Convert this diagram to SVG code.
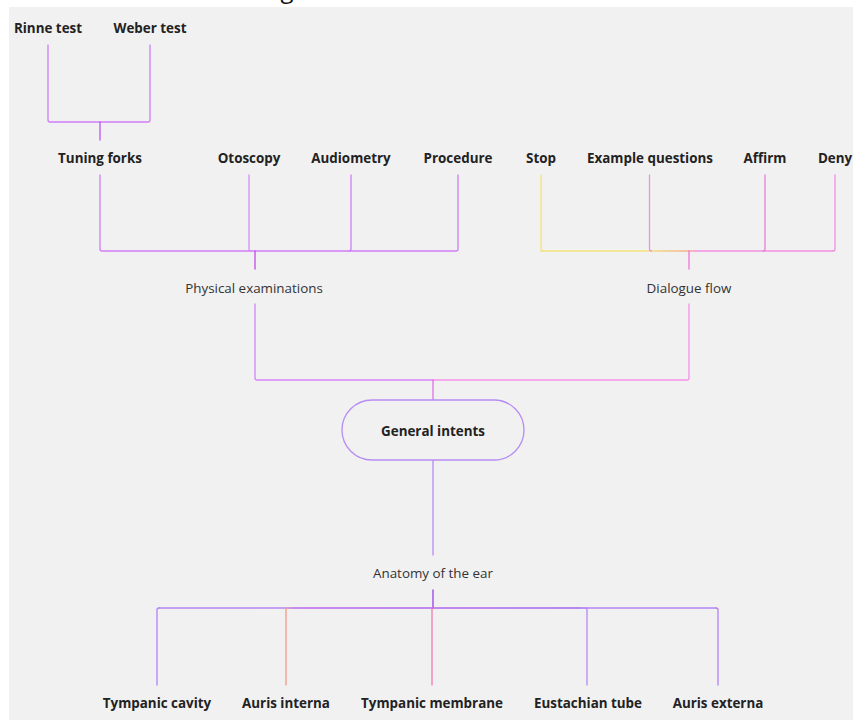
<svg xmlns="http://www.w3.org/2000/svg" width="853" height="722" viewBox="0 0 853 722">
  <style>
    .lbl { font-family: "Open Sans", "Noto Sans", "Liberation Sans", sans-serif; font-size: 13.4px; font-weight: 700; fill: #222; text-anchor: middle; dominant-baseline: central; }
    .sub { font-family: "Open Sans", "Noto Sans", "Liberation Sans", sans-serif; font-size: 13.4px; font-weight: 400; fill: #333; text-anchor: middle; dominant-baseline: central; }
    .ln { fill: none; stroke-width: 1.3; stroke-linejoin: round; stroke-linecap: round; }
  </style>
  <defs>
    <linearGradient id="dlgBar" x1="541" y1="0" x2="835" y2="0" gradientUnits="userSpaceOnUse">
      <stop offset="0.36" stop-color="#f5e37c"/>
      <stop offset="0.5" stop-color="#f5b08a"/>
      <stop offset="0.53" stop-color="#f290e0"/>
      <stop offset="1" stop-color="#f292e2"/>
    </linearGradient>
    <linearGradient id="earBar" x1="157" y1="0" x2="718" y2="0" gradientUnits="userSpaceOnUse">
      <stop offset="0" stop-color="#b385f7"/>
      <stop offset="0.23" stop-color="#b385f7"/>
      <stop offset="0.25" stop-color="#bb66ee"/>
      <stop offset="0.75" stop-color="#a466f0"/>
      <stop offset="0.77" stop-color="#b385f7"/>
      <stop offset="1" stop-color="#b385f7"/>
    </linearGradient>
  </defs>

  <!-- page -->
  <rect x="0" y="0" width="853" height="722" fill="#ffffff"/>
  <rect x="9" y="7" width="844" height="713" fill="#f1f1f1"/>
  <text x="287" y="-2.5" font-family="Open Sans, Liberation Sans, sans-serif" font-size="24" fill="#111" text-anchor="middle">g</text>

  <!-- connectors -->
  <g id="connectors">
    <!-- tuning forks -->
    <path class="ln" stroke="#d07ef7" d="M48 45 V120 Q48 122 50 122 H148 Q150 122 150 120 V45"/>
    <path class="ln" stroke="#bd55f0" d="M100 122 V140"/>
    <!-- physical examinations -->
    <path class="ln" stroke="#d07ef7" d="M100 175 V249 Q100 251 102 251 H456 Q458 251 458 249 V175"/>
    <path class="ln" stroke="#d590f7" d="M249 175 V249 Q249 251 251 251"/>
    <path class="ln" stroke="#cc80f5" d="M351 175 V249 Q351 251 349 251"/>
    <path class="ln" stroke="#c24ae8" d="M255 251 V269"/>
    <!-- dialogue flow -->
    <path class="ln" stroke="url(#dlgBar)" d="M541 251 H833"/>
    <path class="ln" stroke="#f5e37c" d="M541 175 V249 Q541 251 543 251"/>
    <path class="ln" stroke="#f090e0" d="M649.5 175 V249 Q649.5 251 651.5 251"/>
    <path class="ln" stroke="#e682d8" d="M765 175 V249 Q765 251 763 251"/>
    <path class="ln" stroke="#f092e2" d="M835 175 V249 Q835 251 833 251"/>
    <path class="ln" stroke="#ee76d8" d="M689 251 V269"/>
    <!-- general intents -->
    <path class="ln" stroke="#d385f7" d="M255 304 V378 Q255 380 257 380 H433"/>
    <path class="ln" stroke="#f592ea" d="M689 304 V378 Q689 380 687 380 H433"/>
    <path class="ln" stroke="#e070e6" d="M433 380 V400"/>
    <path class="ln" stroke="#b68cf5" d="M433 460 V555"/>
    <!-- anatomy of the ear -->
    <path class="ln" stroke="#9a3ee8" d="M433 590 V608"/>
    <path class="ln" stroke="url(#earBar)" d="M159 608 H716"/>
    <path class="ln" stroke="#b283f7" d="M157 685 V610 Q157 608 159 608"/>
    <path class="ln" stroke="#f59a88" d="M286 685 V610 Q286 608 288 608"/>
    <path class="ln" stroke="#f07cb2" d="M432 685 V608"/>
    <path class="ln" stroke="#b68af5" d="M587 685 V610 Q587 608 585 608"/>
    <path class="ln" stroke="#b380f7" d="M718 685 V610 Q718 608 716 608"/>
  </g>

  <!-- nodes -->
  <g id="rinne-test"><text class="lbl" x="48" y="28">Rinne test</text></g>
  <g id="weber-test"><text class="lbl" x="150" y="28">Weber test</text></g>
  <g id="tuning-forks"><text class="lbl" x="100" y="158">Tuning forks</text></g>
  <g id="otoscopy"><text class="lbl" x="249" y="158">Otoscopy</text></g>
  <g id="audiometry"><text class="lbl" x="351" y="158">Audiometry</text></g>
  <g id="procedure"><text class="lbl" x="458" y="158">Procedure</text></g>
  <g id="stop"><text class="lbl" x="541" y="158">Stop</text></g>
  <g id="example-questions"><text class="lbl" x="650" y="158">Example questions</text></g>
  <g id="affirm"><text class="lbl" x="765" y="158">Affirm</text></g>
  <g id="deny"><text class="lbl" x="835" y="158">Deny</text></g>
  <g id="physical-examinations"><text class="sub" x="254" y="288">Physical examinations</text></g>
  <g id="dialogue-flow"><text class="sub" x="689" y="288">Dialogue flow</text></g>
  <g id="general-intents">
    <rect x="342" y="400" width="182" height="60" rx="30" ry="30" fill="#f1f1f1" stroke="#b68cf5" stroke-width="1.3"/>
    <text class="lbl" x="433" y="431">General intents</text>
  </g>
  <g id="anatomy-of-the-ear"><text class="sub" x="433" y="573">Anatomy of the ear</text></g>
  <g id="tympanic-cavity"><text class="lbl" x="157" y="703">Tympanic cavity</text></g>
  <g id="auris-interna"><text class="lbl" x="286" y="703">Auris interna</text></g>
  <g id="tympanic-membrane"><text class="lbl" x="432" y="703">Tympanic membrane</text></g>
  <g id="eustachian-tube"><text class="lbl" x="588" y="703">Eustachian tube</text></g>
  <g id="auris-externa"><text class="lbl" x="718" y="703">Auris externa</text></g>
</svg>
